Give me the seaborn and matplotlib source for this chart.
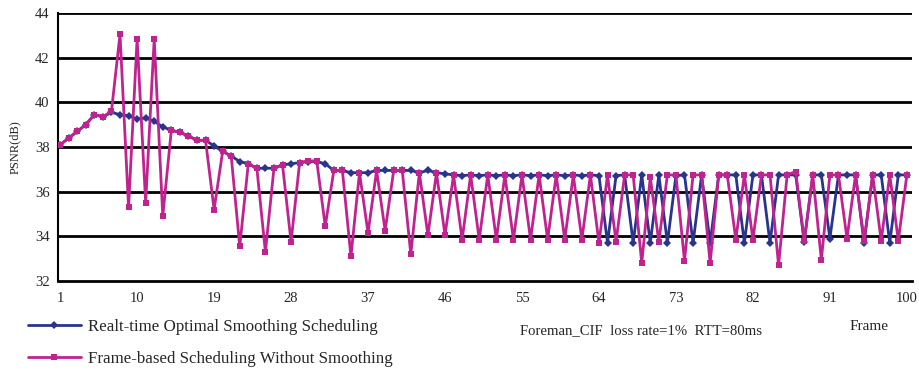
import numpy as np
import pandas as pd
import matplotlib
matplotlib.use("Agg")
import matplotlib.pyplot as plt
import seaborn as sns

# -----------------------------
# data
# -----------------------------
frames = list(range(1, 101))

smooth_psnr = [
    38.1, 38.4, 38.7, 39.0, 39.45, 39.35, 39.55, 39.45, 39.4, 39.25,
    39.3, 39.15, 38.9, 38.75, 38.65, 38.5, 38.3, 38.3, 38.05, 37.8,
    37.6, 37.35, 37.25, 37.05, 37.05, 37.05, 37.2, 37.25, 37.3, 37.35,
    37.35, 37.25, 36.95, 36.95, 36.85, 36.85, 36.85, 36.95, 36.95, 36.95,
    36.95, 36.95, 36.85, 36.95, 36.85, 36.8, 36.75, 36.72, 36.75, 36.72,
    36.75, 36.72, 36.75, 36.72, 36.75, 36.72, 36.75, 36.72, 36.75, 36.72,
    36.75, 36.72, 36.75, 36.72, 33.7, 36.72, 36.75, 33.7, 36.75, 33.7,
    36.75, 33.7, 36.72, 36.75, 33.7, 36.75, 33.7, 36.75, 36.75, 36.75,
    33.7, 36.75, 36.75, 33.7, 36.75, 36.75, 36.75, 33.75, 36.75, 36.75,
    33.9, 36.75, 36.75, 36.75, 33.7, 36.75, 36.75, 33.7, 36.75, 36.75,
]

frame_psnr = [
    38.1, 38.4, 38.7, 39.0, 39.45, 39.35, 39.6, 43.05, 35.3, 42.85,
    35.5, 42.85, 34.9, 38.75, 38.65, 38.5, 38.3, 38.3, 35.2, 37.8,
    37.6, 33.55, 37.25, 37.05, 33.3, 37.05, 37.2, 33.75, 37.3, 37.38,
    37.38, 34.45, 36.95, 36.95, 33.1, 36.85, 34.15, 36.95, 34.25, 36.95,
    36.95, 33.2, 36.85, 34.05, 36.85, 34.05, 36.75, 33.85, 36.75, 33.85,
    36.75, 33.85, 36.75, 33.85, 36.75, 33.85, 36.75, 33.85, 36.75, 33.85,
    36.75, 33.85, 36.75, 33.7, 36.75, 33.75, 36.75, 36.75, 32.8, 36.65,
    33.75, 36.75, 36.75, 32.9, 36.75, 36.75, 32.8, 36.75, 36.75, 33.85,
    36.75, 33.85, 36.75, 36.75, 32.7, 36.75, 36.9, 33.8, 36.75, 32.95,
    36.75, 36.75, 33.9, 36.75, 33.8, 36.75, 33.8, 36.75, 33.8, 36.75,
]

x_ticks = [1, 10, 19, 28, 37, 46, 55, 64, 73, 82, 91, 100]
y_ticks = [32, 34, 36, 38, 40, 42, 44]

label_smooth = "Realt-time Optimal Smoothing Scheduling"
label_frame = "Frame-based Scheduling Without Smoothing"

df = pd.DataFrame({"frame": frames, "smooth": smooth_psnr, "frame_based": frame_psnr})

# -----------------------------
# style
# -----------------------------
sns.set_style("white")
plt.rcParams["font.family"] = ["Liberation Serif", "DejaVu Serif"]

BLUE = "#29348C"
PINK = "#C0238F"

fig, ax = plt.subplots(figsize=(9.2, 3.74), dpi=100)
fig.subplots_adjust(left=58 / 920, right=912 / 920, top=1 - 13 / 374, bottom=1 - 281 / 374)

sns.lineplot(data=df, x="frame", y="smooth", ax=ax, color=BLUE, lw=2.0,
             marker="D", markersize=4.2, markeredgewidth=0, label=label_smooth, zorder=3)
sns.lineplot(data=df, x="frame", y="frame_based", ax=ax, color=PINK, lw=2.0,
             marker="s", markersize=4.0, markeredgewidth=0, label=label_frame, zorder=4)

ax.set_xlim(0.75, 100.6)
ax.set_ylim(32, 44)
ax.set_xticks(x_ticks)
ax.set_xticks(frames, minor=True)
ax.set_yticks(y_ticks)
ax.tick_params(axis="x", which="major", direction="in", length=4, width=0.8,
               labelsize=10.5, pad=8)
ax.tick_params(axis="x", which="minor", direction="in", length=4, width=0.6)
ax.tick_params(axis="y", direction="out", length=4, width=0.8, labelsize=10.5, pad=2)
ax.set_xlabel("")
ax.set_ylabel("PSNR(dB)", fontsize=9, labelpad=10)

# horizontal black gridlines
for v in y_ticks[1:]:
    ax.axhline(v, color="black", lw=2.0, zorder=1)

for side in ["top", "right"]:
    ax.spines[side].set_visible(False)
ax.spines["left"].set_color("black")
ax.spines["left"].set_linewidth(1.5)
ax.spines["bottom"].set_color("black")
ax.spines["bottom"].set_linewidth(2.0)

# legend below the plot
handles, labels = ax.get_legend_handles_labels()
ax.get_legend().remove()
fig.legend(handles, labels, loc="upper left", bbox_to_anchor=(28 / 920, 1 - 319 / 374),
           frameon=False, fontsize=12.2, handlelength=3.1, handletextpad=0.45,
           labelspacing=0.95, borderpad=0, borderaxespad=0)

fig.text(520 / 920, 1 - 331 / 374, "Foreman_CIF  loss rate=1%  RTT=80ms",
         fontsize=10.6, va="center", ha="left")
fig.text(850 / 920, 1 - 326 / 374, "Frame", fontsize=11, va="center", ha="left")

plt.savefig("out.png", dpi=100)
print("saved out.png")
